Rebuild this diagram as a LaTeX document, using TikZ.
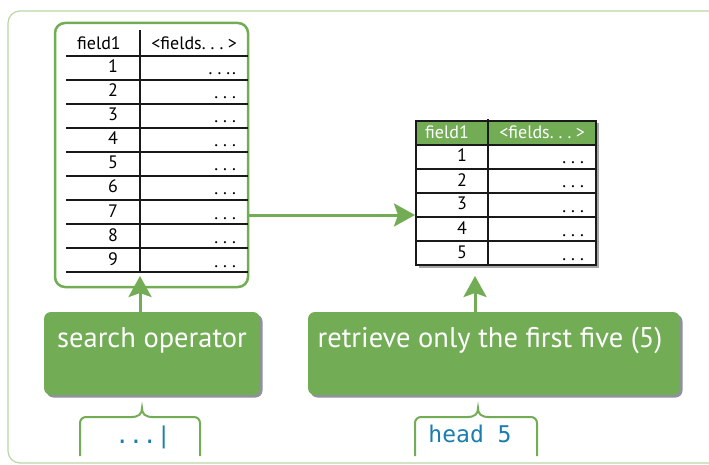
\documentclass[tikz,border=0pt]{standalone}
\usepackage{fontspec}
\setmainfont{PT Sans}
\newfontfamily\codefont{DejaVu Sans Mono}
\usetikzlibrary{arrows.meta,shadows}
\definecolor{grn}{RGB}{114,172,85}
\definecolor{lgrn}{RGB}{186,214,168}
\definecolor{codeblue}{RGB}{25,125,175}
\definecolor{shd}{RGB}{70,70,95}
\newcommand\mydots{.\kern.28em.\kern.28em.}
\begin{document}
\begin{tikzpicture}[x=1pt,y=-1pt,
  every node/.style={inner sep=0pt,outer sep=0pt},
  frame/.style={draw=lgrn,line width=1.2pt,rounded corners=12pt},
  tabbox/.style={draw=grn,line width=2.5pt,rounded corners=10pt},
  rule/.style={line width=1.6pt,black!90},
  tabtxt/.style={font=\fontsize{18}{18}\selectfont,anchor=base},
  numtxt/.style={font=\fontsize{18}{18}\selectfont,anchor=base east},
  opbox/.style={fill=grn,rounded corners=7pt,
    drop shadow={shadow xshift=2.5pt,shadow yshift=-2.5pt,fill=shd,opacity=.6}},
  optxt/.style={font=\fontsize{28.5}{28.5}\selectfont,text=white,anchor=base},
  arr/.style={draw=grn,line width=3pt,-{Stealth[length=21pt,width=23pt,inset=4pt]}},
  brace/.style={draw=grn,line width=2pt,rounded corners=6pt},
  code/.style={font=\codefont\fontsize{23}{23}\selectfont,text=codeblue,anchor=base}
]
\useasboundingbox (0,0) rectangle (709,465);
% outer frame
\draw[frame] (8,11) rectangle (760,463);

% ---------- left table ----------
\node[tabbox,minimum width=193pt,minimum height=264pt] (lbox) at (151.5,155) {};
\foreach \k in {0,...,9}{
  \draw[rule] (66,56+24*\k) -- (248,56+24*\k);
}
\draw[rule] (140,30) -- (140,272);
\node[tabtxt] (lh1) at (99,50) {field1};
\node[tabtxt,anchor=base east] (lh2) at (237,50) {<fields\mydots\kern.25em>};
\foreach \k in {1,...,9}{
  \node[numtxt] (ln\k) at (118,56+24*\k-7) {\k};
}
\node[numtxt] (ld1) at (236,56+24-5) {\mydots\kern.1em.};
\foreach \k in {2,...,9}{
  \node[numtxt] (ld\k) at (236,56+24*\k-5) {\mydots};
}

% ---------- right table ----------
\node[fill=white,minimum width=180pt,minimum height=144pt,
  drop shadow={shadow xshift=2.5pt,shadow yshift=-2.5pt,fill=black,opacity=.35}] (rtab) at (506,193) {};
\fill[grn] (416,121) rectangle (596,145);
\draw[line width=1.6pt,black!90] (416,121) rectangle (596,265);
\foreach \k in {0,...,4}{
  \draw[rule] (416,145+24*\k) -- (596,145+24*\k);
}
\draw[rule] (488,119) -- (488,265);
\node[tabtxt,text=white] (rh1) at (447,139) {field1};
\node[tabtxt,text=white,anchor=base east] (rh2) at (585,139) {<fields\mydots\kern.25em>};
\foreach \k in {1,...,5}{
  \node[numtxt] (rn\k) at (467,145+24*\k-7) {\k};
  \node[numtxt] (rd\k) at (584,145+24*\k-5) {\mydots};
}

% ---------- operator boxes ----------
\node[opbox,minimum width=216pt,minimum height=83pt] (search) at (152,353.5) {};
\node[optxt] (searcht) at (152,347) {search operator};
\node[opbox,minimum width=372pt,minimum height=83pt] (retr) at (494,353.5) {};
\node[optxt] (retrt) at (490,347) {retrieve only the first five (5)};

% ---------- arrows ----------
\coordinate (a1s) at (248,215);
\coordinate (a1e) at (415,215);
\draw[arr] (a1s) -- (a1e);
\coordinate (a2s) at (140,322);
\coordinate (a2e) at (140,276);
\draw[arr] (a2s) -- (a2e);
\coordinate (a3s) at (475,322);
\coordinate (a3e) at (475,276);
\draw[arr] (a3s) -- (a3e);

% ---------- braces ----------
\draw[brace] (80,456) -- (80,417) -- (132,417);
\draw[draw=grn,line width=2pt] (131,417) .. controls (139,417) and (142,414) .. (142,408)
  .. controls (142,414) and (145,417) .. (153,417);
\draw[brace] (152,417) -- (200,417) -- (200,456);
\node[code] (cmd1) at (143,443) {...|};

\draw[brace] (415,456) -- (415,417) -- (468,417);
\draw[draw=grn,line width=2pt] (467,417) .. controls (475,417) and (478,414) .. (478,408)
  .. controls (478,414) and (481,417) .. (489,417);
\draw[brace] (488,417) -- (537,417) -- (537,456);
\node[code] (cmd2) at (470,442) {head 5};
\end{tikzpicture}
\end{document}
